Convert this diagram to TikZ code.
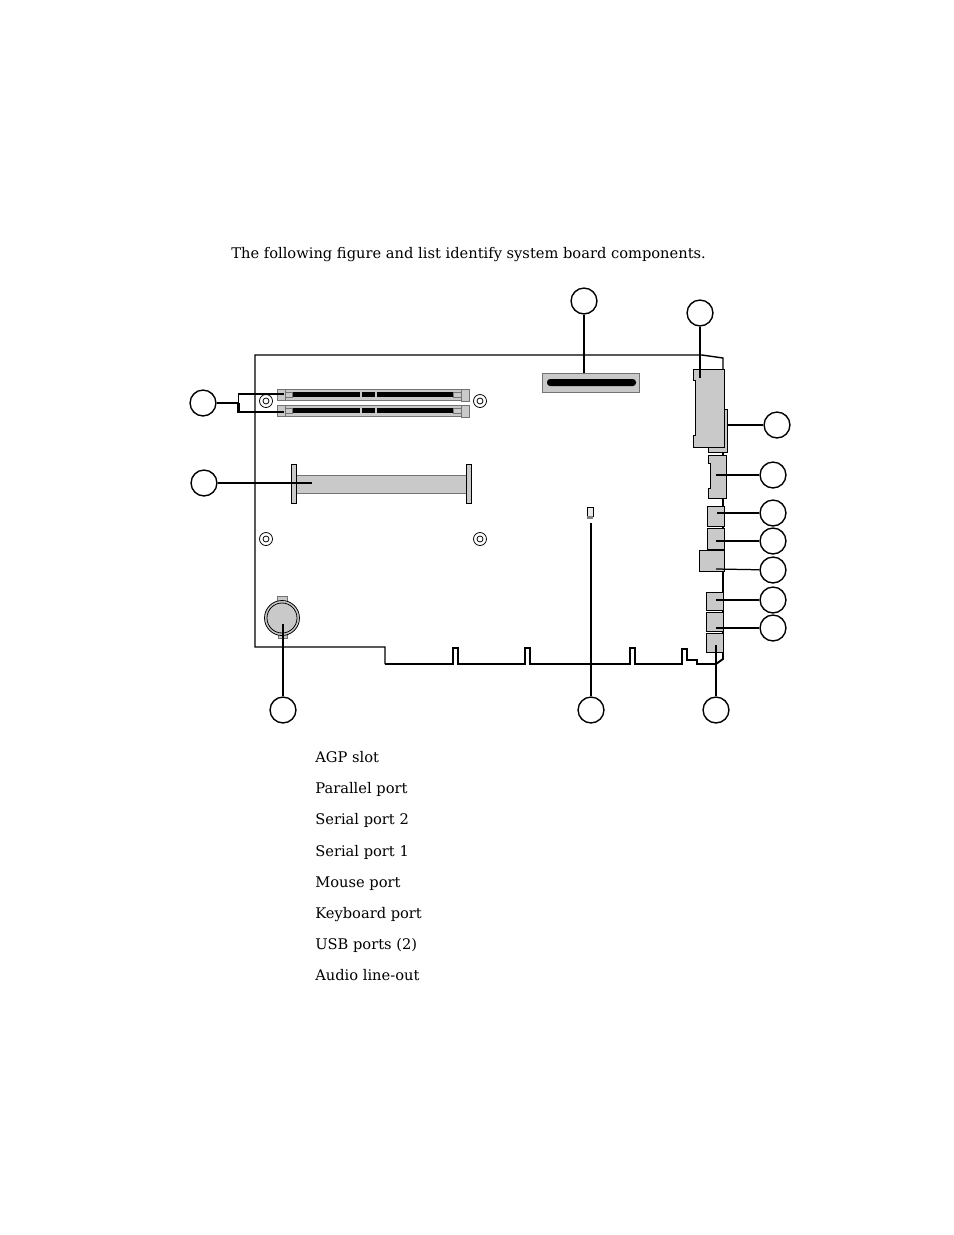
\documentclass[tikz,border=0pt]{standalone}
\usepackage{fontspec}
\setmainfont{DejaVu Serif}
\usetikzlibrary{positioning,calc}
\definecolor{partgray}{HTML}{C9C9C9}

\begin{document}
\begin{tikzpicture}[
    x=0.6415pt,
    y=-0.6415pt,
    board/.style={draw,line width=0.9pt,line join=miter},
    part/.style={draw,fill=partgray,line width=0.6pt},
    softpart/.style={draw=black!55,fill=partgray,line width=0.6pt},
    leader/.style={draw,line width=0.8pt},
    heavy/.style={draw,line width=1.3pt},
    callout/.style={
        draw,
        circle,
        fill=white,
        minimum size=16.6pt,
        inner sep=0pt,
        line width=0.9pt
    },
    bodytext/.style={
        anchor=base west,
        inner sep=0pt,
        font=\fontsize{9.4pt}{11pt}\selectfont
    }
]
\useasboundingbox (0,0) rectangle (954,1235);

% outline of the board
\draw[board] (723,370) -- (723,358) -- (702,355) -- (255,355) -- (255,647) -- (385,647)
    -- (385,664);
\draw[board,line width=1.25pt] (385,664) -- (453,664) -- (453,648) -- (458,648) -- (458,664)
    -- (525,664) -- (525,648) -- (530,648) -- (530,664)
    -- (630,664) -- (630,648) -- (635,648) -- (635,664)
    -- (682,664) -- (682,649) -- (687,649) -- (687,660) -- (697,660) -- (697,664)
    -- (716,664) -- (723,659) -- (723,370);

% memory sockets
\foreach \ytop in {389,405}{
    \draw[softpart] (283,\ytop) rectangle (462,\ytop+11);
    \draw[softpart] (277,\ytop) rectangle (285,\ytop+11);
    \draw[softpart] (461,\ytop) rectangle (469,\ytop+12);
    \fill (292,\ytop+3) rectangle (453,\ytop+7.5);
    \fill[partgray] (360,\ytop+2) rectangle (362,\ytop+9);
    \fill[partgray] (375,\ytop+2) rectangle (377,\ytop+9);
    \draw[softpart,line width=0.4pt] (285,\ytop+3) rectangle (292,\ytop+8);
    \draw[softpart,line width=0.4pt] (453,\ytop+3) rectangle (461,\ytop+8);
}

% mounting holes
\foreach \hx/\hy in {266/401,480/401,266/539,480/539}{
    \draw[line width=0.5pt] (\hx,\hy) circle [radius=6.5];
    \draw[line width=0.5pt] (\hx,\hy) circle [radius=3];
}

% long slot
\draw[softpart] (296,475) rectangle (466,493);
\draw[part] (291,464) rectangle (296,503);
\draw[part] (466,464) rectangle (471,503);

% agp slot
\draw[softpart] (542,373) rectangle (639,392);
\fill[rounded corners=2pt] (547,379) rectangle (636,386);

% rear connectors
\draw[part] (708,409) rectangle (727,452);
\draw[part] (693,369) -- (724,369) -- (724,447) -- (693,447) -- (693,435) -- (695,435)
    -- (695,380) -- (693,380) -- cycle;
\draw[part] (708,455) -- (726,455) -- (726,498) -- (708,498) -- (708,488) -- (710,488)
    -- (710,463) -- (708,463) -- cycle;
\draw[part] (707,506) rectangle (724,526);
\draw[part] (707,528) rectangle (724,549);
\draw[part] (699,550) rectangle (724,571);
\draw[part] (706,592) rectangle (723,610);
\draw[part] (706,612) rectangle (723,631);
\draw[part] (706,633) rectangle (723,652);

% jumper
\draw[fill=partgray!40,line width=0.4pt] (587,507) rectangle (593,516);
\fill[gray] (587,516) rectangle (593,519);

% battery
\draw[softpart,line width=0.4pt] (277,596) rectangle (287,606);
\draw[softpart,line width=0.4pt] (278,632) rectangle (287,638);
\draw[part,line width=0.5pt] (282,618) circle [radius=17.5];
\draw[part,line width=0.5pt] (282,618) circle [radius=15];

% ends of the leaders
\coordinate (pinagp) at (584,373);
\coordinate (pinparallel) at (700,378);
\coordinate (pinserialb) at (727,425);
\coordinate (pinseriala) at (716,475);
\coordinate (pinmouse) at (717,513);
\coordinate (pinkeyboard) at (716,541);
\coordinate (pinusb) at (716,569);
\coordinate (pinaudioa) at (716,600);
\coordinate (pinaudiob) at (716,628);
\coordinate (pinaudioc) at (716,645);
\coordinate (pinjumper) at (591,523);
\coordinate (pinbattery) at (283,624);
\coordinate (pinslot) at (312,483);
\coordinate (pinbracket) at (238.5,403);
\coordinate (pinsocketa) at (284,394);
\coordinate (pinsocketb) at (284,412);

% numbered circles (left empty as in the figure)
\node[callout] (calloutagp) at (584,301) {};
\node[callout] (calloutparallel) at (700,313) {};
\node[callout] (calloutserialb) at (777,425) {};
\node[callout] (calloutseriala) at (773,475) {};
\node[callout] (calloutmouse) at (773,513) {};
\node[callout] (calloutkeyboard) at (773,541) {};
\node[callout] (calloutusb) at (773,570) {};
\node[callout] (calloutaudioa) at (773,600) {};
\node[callout] (calloutaudiob) at (773,628) {};
\node[callout] (calloutaudioc) at (716,710) {};
\node[callout] (calloutjumper) at (591,710) {};
\node[callout] (calloutbattery) at (283,710) {};
\node[callout] (calloutslot) at (204,483) {};
\node[callout] (calloutsocket) at (203,403) {};

\draw[leader] (calloutagp) -- (pinagp);
\draw[heavy] (calloutparallel) -- (pinparallel);
\draw[leader] (calloutserialb) -- (pinserialb);
\draw[leader] (calloutseriala) -- (pinseriala);
\draw[leader] (calloutmouse) -- (pinmouse);
\draw[leader] (calloutkeyboard) -- (pinkeyboard);
\draw[leader] (calloutusb) -- (pinusb);
\draw[leader] (calloutaudioa) -- (pinaudioa);
\draw[leader] (calloutaudiob) -- (pinaudiob);
\draw[heavy] (calloutaudioc) -- (pinaudioc);
\draw[leader] (calloutjumper) -- (pinjumper);
\draw[leader] (calloutbattery) -- (pinbattery);
\draw[leader] (calloutslot) -- (pinslot);
\draw[leader] (calloutsocket) -- (pinbracket);
\draw[leader] (pinbracket) |- (pinsocketa);
\draw[heavy] (pinbracket) |- (pinsocketb);

% text
\node[bodytext] (intro) at (231,258) {The following figure and list identify system board components.};
\node[bodytext] (itemagp) at (315,762) {AGP slot};
\node[bodytext] (itemparallel) at (315,793) {Parallel port};
\node[bodytext] (itemserialb) at (315,824) {Serial port 2};
\node[bodytext] (itemseriala) at (315,856) {Serial port 1};
\node[bodytext] (itemmouse) at (315,887) {Mouse port};
\node[bodytext] (itemkeyboard) at (315,918) {Keyboard port};
\node[bodytext] (itemusb) at (315,949) {USB ports (2)};
\node[bodytext] (itemaudio) at (315,980) {Audio line-out};

\end{tikzpicture}
\end{document}
